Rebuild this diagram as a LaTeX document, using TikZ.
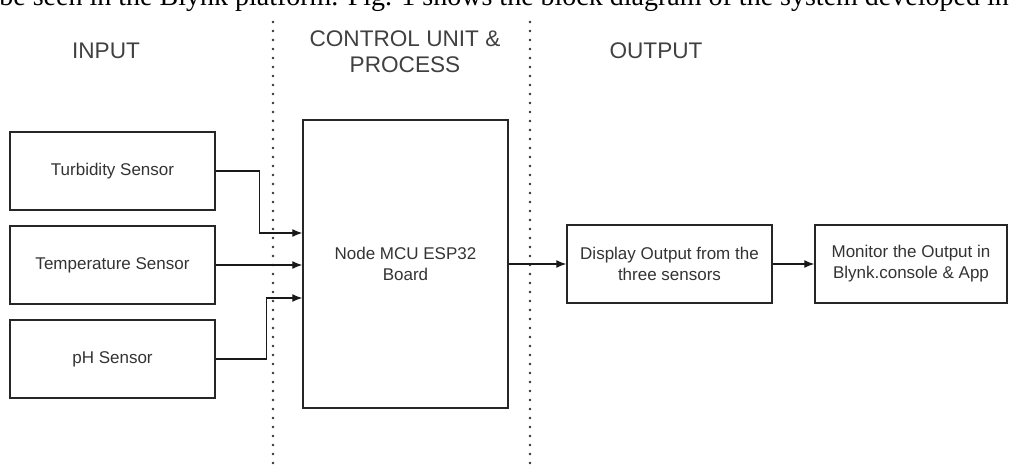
\documentclass[tikz,border=0pt]{standalone}
\usepackage{fontspec}
\setmainfont{Liberation Serif}
\setsansfont{Liberation Sans}
\usetikzlibrary{arrows.meta}
\tikzstyle{block} = [rectangle, minimum width=102.5pt, minimum height=39pt, text centered, align=center, draw=black!85, line width=0.75pt, text=black!80, font=\sffamily\fontsize{8.5}{10.5}\selectfont]
\tikzstyle{heading} = [align=center, text=black!75, font=\sffamily\fontsize{11.3}{13}\selectfont]
\tikzstyle{divider} = [black!80, line width=1.4pt, line cap=round, dash pattern=on 0pt off 4.5pt]
\tikzstyle{arrow} = [line width=0.6pt, black!90, -{Latex[length=5pt,width=4pt]}]

\begin{document}
\begin{tikzpicture}[x=0.5pt, y=-0.5pt, node distance=47pt]
	\useasboundingbox (0,0) rectangle (1009,470);
	\clip (0,0) rectangle (1009,470);
	% line of running text above the figure
	\node (caption) [anchor=base west, inner sep=0pt, font=\fontsize{14}{16}\selectfont] at (-1,6) {be seen in the Blynk platform. Fig. 1 shows the block diagram of the system developed in};

	\draw [divider] (273,22) -- (273,470);
	\draw [divider] (530,22) -- (530,470);

	\node (input) [heading] at (106,51) {INPUT};
	\node (control) [heading] at (405,52) {CONTROL UNIT \&\\PROCESS};
	\node (output) [heading] at (656,51) {OUTPUT};

	\node (turb) [block] at (112.5,171) {Turbidity Sensor};
	\node (temp) [block, below of=turb] {Temperature Sensor};
	\node (ph) [block, below of=temp] {pH Sensor};
	\node (mcu) [block, minimum height=144pt] at (405.5,264) {Node MCU ESP32\\Board};
	\node (disp) [block, right of=mcu, xshift=85pt] {Display Output from the\\three sensors};
	\node (mon) [block, minimum width=96pt, right of=disp, xshift=73.75pt] {Monitor the Output in\\Blynk.console \& App};

	\draw [arrow] (turb.east) -- ++(44,0) |- ([yshift=15.5pt]mcu.west);
	\draw [arrow] (temp) -- (temp -| mcu.west);
	\draw [arrow] (ph.east) -- ++(51,0) |- ([yshift=-17pt]mcu.west);
	\draw [arrow] (mcu.east |- disp) -- (disp);
	\draw [arrow] (disp) -- (mon);
\end{tikzpicture}
\end{document}
